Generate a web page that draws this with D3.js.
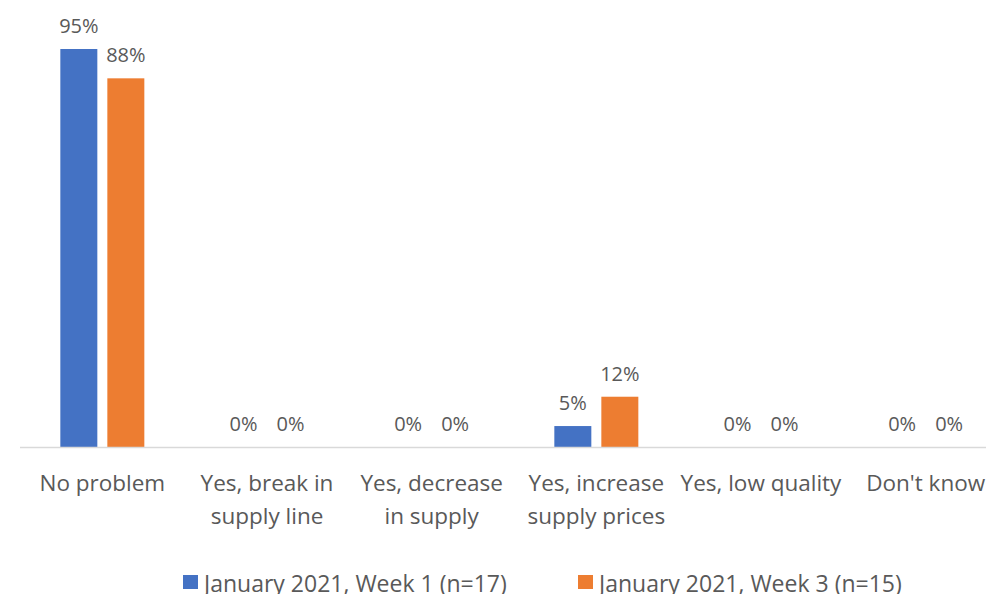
<!DOCTYPE html>
<html>
<head>
<meta charset="utf-8">
<script src="https://cdn.jsdelivr.net/npm/d3@7"></script>
<style>
  body { margin: 0; background: #fff; }
  svg { display: block; font-family: "Open Sans", sans-serif; }
</style>
</head>
<body>
<div id="chart"></div>
<script>
const width = 986;
const height = 594;

const categories = [
    ["No problem"],
    ["Yes, break in", "supply line"],
    ["Yes, decrease", "in supply"],
    ["Yes, increase", "supply prices"],
    ["Yes, low quality"],
    ["Don't know"]
];
const seriesNames = ["January 2021, Week 1 (n=17)", "January 2021, Week 3 (n=15)"];
const week1 = [95, 0, 0, 5, 0, 0];
const week3 = [88, 0, 0, 12, 0, 0];
const colors = ["#4472c4", "#ed7d31"];

const baseY = 447;
const textColor = "#595959";

const svg = d3.select("#chart")
    .append("svg")
    .attr("width", width)
    .attr("height", height);

// band per category; plot runs a bit past the right edge like the original
const x = d3.scaleBand()
    .domain(d3.range(categories.length))
    .range([20, 1008]);

const inner = d3.scaleBand()
    .domain([0, 1])
    .range([-42, 42])
    .paddingInner(0.213);

const y = d3.scaleLinear()
    .domain([0, 95])
    .range([baseY, 49]);

const series = [week1, week3];

series.forEach((vals, s) => {
    const g = svg.append("g");
    g.selectAll("rect")
        .data(vals)
        .enter()
        .append("rect")
        .attr("x", (d, i) => x(i) + x.bandwidth() / 2 + inner(s))
        .attr("width", inner.bandwidth())
        .attr("y", d => y(d))
        .attr("height", d => baseY - y(d))
        .attr("fill", colors[s]);

    g.selectAll("text")
        .data(vals)
        .enter()
        .append("text")
        .attr("x", (d, i) => x(i) + x.bandwidth() / 2 + inner(s) + inner.bandwidth() / 2)
        .attr("y", d => y(d) - 16)
        .attr("text-anchor", "middle")
        .style("font-size", "20px")
        .style("fill", textColor)
        .text(d => d + "%");
});

// baseline
svg.append("line")
    .attr("x1", 20)
    .attr("x2", width)
    .attr("y1", baseY + 0.5)
    .attr("y2", baseY + 0.5)
    .style("stroke", "#d9d9d9")
    .style("stroke-width", 1.5);

// category labels
const labels = svg.append("g").selectAll("text")
    .data(categories)
    .enter()
    .append("text")
    .attr("x", (d, i) => x(i) + x.bandwidth() / 2)
    .attr("y", 491)
    .attr("text-anchor", "middle")
    .style("font-size", "22.5px")
    .style("fill", textColor);

labels.selectAll("tspan")
    .data(d => d)
    .enter()
    .append("tspan")
    .attr("x", function () { return d3.select(this.parentNode).attr("x"); })
    .attr("dy", (d, i) => i === 0 ? 0 : 33)
    .text(d => d);

// legend
const legendX = [183, 578];
const legend = svg.append("g").selectAll("g")
    .data(seriesNames)
    .enter()
    .append("g")
    .attr("transform", (d, i) => `translate(${legendX[i]},0)`);

legend.append("rect")
    .attr("x", 0)
    .attr("y", 575)
    .attr("width", 15)
    .attr("height", 14)
    .attr("fill", (d, i) => colors[i]);

legend.append("text")
    .attr("x", 21)
    .attr("y", 592)
    .style("font-size", "23px")
    .style("fill", textColor)
    .text(d => d);
</script>
</body>
</html>
